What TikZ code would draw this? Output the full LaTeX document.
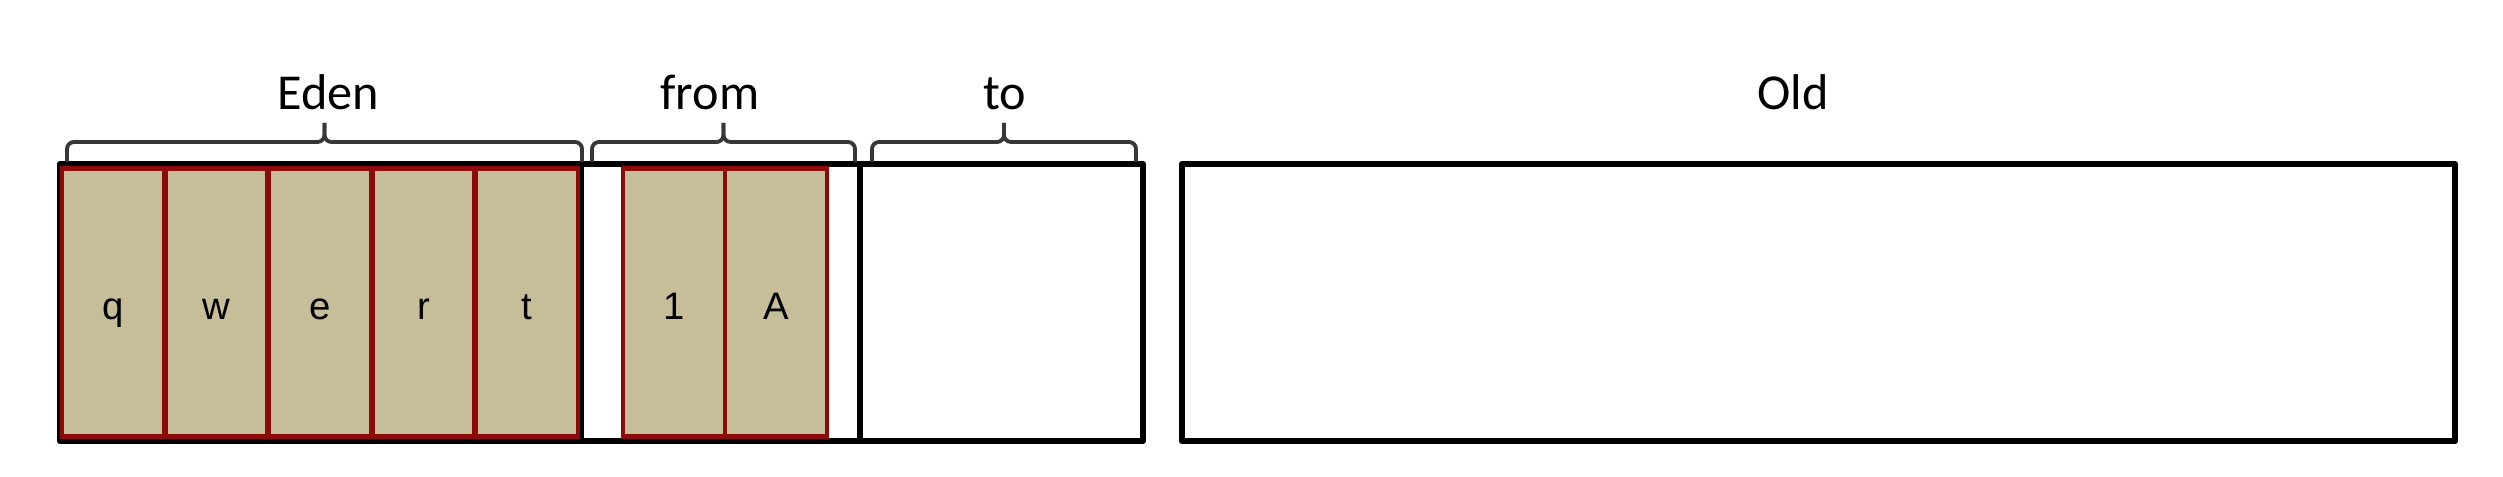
\documentclass[tikz,border=0pt]{standalone}
\usepackage{fontspec}
\setmainfont{Carlito}
\newfontfamily\cellfont{Liberation Sans}
\usepackage{tikz}
\definecolor{sand}{RGB}{197,190,153}
\definecolor{brick}{RGB}{140,10,10}
\definecolor{inkgray}{RGB}{55,55,55}

\begin{document}
\begin{tikzpicture}
[bx/.style={draw=black,line width=1.8pt,line join=round},
 cl/.style={draw=brick,fill=sand,line width=1.2pt,inner sep=0pt,
   minimum width=1.02cm,minimum height=2.68cm,
   font=\cellfont\fontsize{10.9}{12}\selectfont,text height=2.3ex,text depth=0.3ex},
 br/.style={draw=inkgray,line width=1.1pt,rounded corners=2pt},
 lb/.style={anchor=base,font=\fontsize{14.3}{17}\selectfont,inner sep=0pt}]
\useasboundingbox (0,0) rectangle (25.03,4.77);

% young generation and old generation
\coordinate (YA) at (0.60,0.36);
\coordinate (YB) at (11.43,3.13);
\coordinate (OA) at (11.82,0.36);
\coordinate (OB) at (24.55,3.13);
\draw[bx] (YA) rectangle (YB);
\draw[bx] (5.81,0.36) -- (5.81,3.13);
\draw[bx] (8.60,0.36) -- (8.60,3.13);
\draw[bx] (OA) rectangle (OB);

% objects
\foreach \c [count=\i] in {q,w,e,r,t}
  \node[cl] (\c) at ({0.61+1.036*\i-0.518},1.745) {\c};
\node[cl] (n1) at (6.74,1.745) {1};
\node[cl] (nA) at (7.76,1.745) {A};

% braces
\foreach \a/\b in {0.67/5.82,5.92/8.55,8.72/11.36} {
  \draw[br] (\a,3.15) -- (\a,3.35) -- ({(\a+\b)/2},3.35) -- ({(\a+\b)/2},3.54);
  \draw[br] (\b,3.15) -- (\b,3.35) -- ({(\a+\b)/2},3.35) -- ({(\a+\b)/2},3.54);
}

\node[lb] (eden) at (3.28,3.67) {Eden};
\node[lb] (from) at (7.10,3.67) {from};
\node[lb] (to) at (10.05,3.67) {to};
\node[lb] (old) at (17.93,3.67) {Old};

\end{tikzpicture}
\end{document}
